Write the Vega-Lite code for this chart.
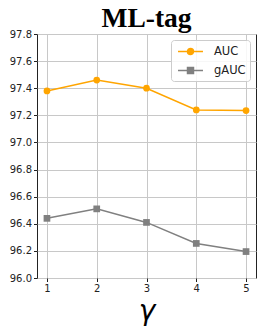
{
  "$schema": "https://vega.github.io/schema/vega-lite/v6.json",
  "autosize": "none",
  "width": 219,
  "height": 244,
  "padding": {"left": 37, "top": 34, "right": 10, "bottom": 54},
  "background": "white",
  "title": {"text": "ML-tag", "font": "Liberation Serif", "fontSize": 27.5, "fontWeight": "bold", "color": "black", "offset": -3, "anchor": "middle"},
  "config": {
    "view": {"stroke": "#222", "strokeWidth": 1},
    "axis": {"labelFont": "DejaVu Sans", "labelFontSize": 10, "labelColor": "#222", "tickColor": "#222", "tickSize": 3.5, "gridColor": "#c8c8c8", "gridWidth": 1, "domain": false}
  },
  "data": {"values": [
    {"gamma": 1, "metric": "AUC", "value": 97.38},
    {"gamma": 2, "metric": "AUC", "value": 97.46},
    {"gamma": 3, "metric": "AUC", "value": 97.40},
    {"gamma": 4, "metric": "AUC", "value": 97.24},
    {"gamma": 5, "metric": "AUC", "value": 97.235},
    {"gamma": 1, "metric": "gAUC", "value": 96.44},
    {"gamma": 2, "metric": "gAUC", "value": 96.51},
    {"gamma": 3, "metric": "gAUC", "value": 96.41},
    {"gamma": 4, "metric": "gAUC", "value": 96.255},
    {"gamma": 5, "metric": "gAUC", "value": 96.195}
  ]},
  "encoding": {
    "x": {"field": "gamma", "type": "quantitative", "scale": {"domain": [0.8, 5.2], "nice": false, "zero": false},
      "axis": {"values": [1, 2, 3, 4, 5], "format": "d", "title": "γ", "titleFont": "DejaVu Sans", "titleFontStyle": "italic", "titleFontWeight": "normal", "titleFontSize": 28, "titleColor": "black", "titlePadding": 4}},
    "y": {"field": "value", "type": "quantitative", "scale": {"domain": [96.0, 97.8], "nice": false, "zero": false},
      "axis": {"values": [96.0, 96.2, 96.4, 96.6, 96.8, 97.0, 97.2, 97.4, 97.6, 97.8], "format": ".1f", "title": null}},
    "color": {"field": "metric", "type": "nominal", "scale": {"domain": ["AUC", "gAUC"], "range": ["#FFA500", "#808080"]},
      "legend": {
          "title": null, "orient": "top-right", "offset": 6, "padding": 4, "rowPadding": 5,
          "fillColor": "rgba(255,255,255,0.85)", "strokeColor": "#cccccc", "cornerRadius": 3,
          "labelFont": "DejaVu Sans", "labelFontSize": 11.5, "labelColor": "#222", "labelOffset": 24,
          "symbolSize": 169, "symbolStrokeWidth": 1.5, "symbolOpacity": 1,
          "encode": {"symbols": {"update": {
            "shape": {"signal": "datum.value === 'AUC' ? 'M-0.69,0H3.15M1.69,0A0.46,0.46 0 1,1 0.77,0A0.46,0.46 0 1,1 1.69,0Z' : 'M-0.69,0H3.15M0.77,-0.46H1.69V0.46H0.77Z'"}
          }}}
        }}
  },
  "layer": [
    {"mark": {"type": "line", "strokeWidth": 1.5}},
    {"mark": {"type": "point", "filled": true, "opacity": 1},
      "encoding": {
        "shape": {"condition": {"test": "datum.metric === 'AUC'", "value": "circle"}, "value": "square"},
        "size": {"value": 45}
      }}
  ]
}
